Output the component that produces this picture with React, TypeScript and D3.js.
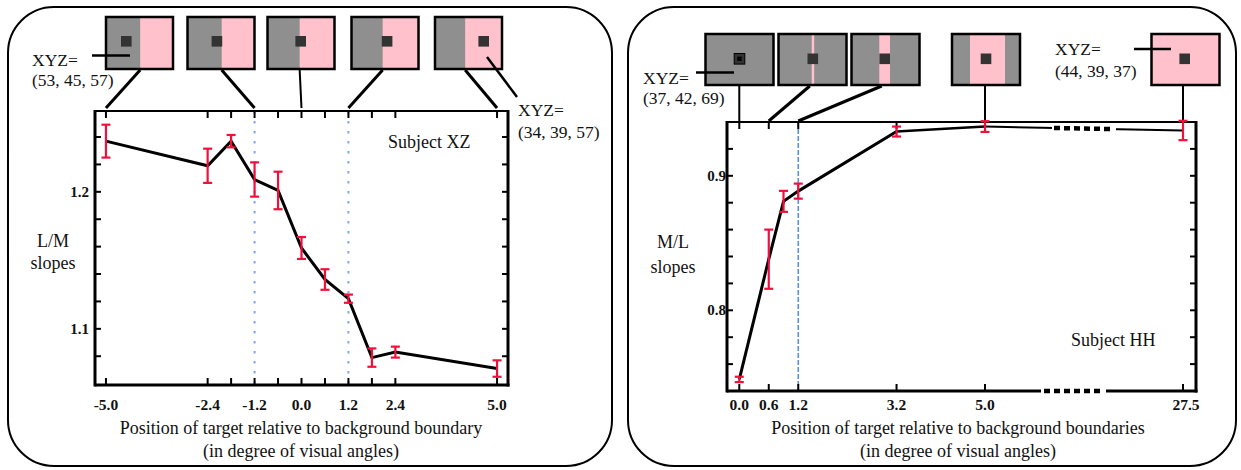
import React from "react";
import * as d3 from "d3";

// ---------- data: Subject XZ (left) ----------
const xzPositions = [-5, -2.4, -1.8, -1.2, -0.6, 0, 0.6, 1.2, 1.8, 2.4, 5];
const xzSlopes = [1.237, 1.219, 1.237, 1.209, 1.201, 1.159, 1.136, 1.122, 1.079, 1.083, 1.071];
const xzErrors = [0.012, 0.0125, 0.0045, 0.0125, 0.0137, 0.008, 0.0075, 0.003, 0.0067, 0.004, 0.006];
const xzTickPositions = [-5, -2.4, -1.8, -1.2, -0.6, 0, 0.6, 1.2, 1.8, 2.4, 5];
const xzTickLabels = ["-5.0", "-2.4", "-1.2", "0.0", "1.2", "2.4", "5.0"];
const xzLabelPositions = [-5, -2.4, -1.2, 0, 1.2, 2.4, 5];
const xzYTicks = [1.08, 1.1, 1.12, 1.14, 1.16, 1.18, 1.2, 1.22, 1.24];
const xzYLabels = ["1.1", "1.2"];
const xzYLabelValues = [1.1, 1.2];
const xzBoundaries = [-1.2, 1.2];
const xzIconXYZ = ["(53, 45, 57)", "(34, 39, 57)"];

// ---------- data: Subject HH (right) ----------
const hhPositions = [0, 0.6, 0.9, 1.2, 3.2, 5.0, 27.5];
const hhSlopes = [0.7486, 0.838, 0.881, 0.8886, 0.9329, 0.9366, 0.9337];
const hhErrors = [0.002, 0.022, 0.0078, 0.0056, 0.0037, 0.004, 0.0072];
const hhTickPositions = [0, 0.6, 1.2, 3.2, 5.0, 27.5];
const hhTickLabels = ["0.0", "0.6", "1.2", "3.2", "5.0", "27.5"];
const hhYTicks = [0.76, 0.78, 0.8, 0.82, 0.84, 0.86, 0.88, 0.9, 0.92];
const hhYLabels = ["0.8", "0.9"];
const hhYLabelValues = [0.8, 0.9];
const hhBoundaries = [1.2];
const hhIconXYZ = ["(37, 42, 69)", "(44, 39, 37)"];

const SERIF = "'Liberation Serif', 'Times New Roman', serif";
const RED = "#f0103c";
const GRAY = "#8f8f8f";
const PINK = "#ffc1cc";
const DARK = "#333333";
const TXT = 18;
const XYZ_TXT = 17.5;
const TICK_TXT = 15.5;

function ErrorBars({ xs, ys, es, x, y }: any) {
  return (
    <g stroke={RED} strokeWidth={2.2} fill="none">
      {xs.map((v: number, i: number) => {
        const cx = x(v);
        const t = y(ys[i] + es[i]);
        const b = y(ys[i] - es[i]);
        return (
          <g key={i}>
            <line x1={cx} x2={cx} y1={t} y2={b} />
            <line x1={cx - 4.5} x2={cx + 4.5} y1={t} y2={t} />
            <line x1={cx - 4.5} x2={cx + 4.5} y1={b} y2={b} />
          </g>
        );
      })}
    </g>
  );
}

function Panel({ x, w }: { x: number; w: number }) {
  return <rect x={x} y={7} width={w} height={459} rx={46} ry={46} fill="none" stroke="#000" strokeWidth={2} />;
}

function LeftChart() {
  const X0 = 95, X1 = 508, Y0 = 111, Y1 = 385;
  const x = d3.scaleLinear().domain([-5.28, 5.28]).range([X0, X1]);
  const y = d3.scaleLinear().domain([1.059, 1.259]).range([Y1, Y0]);
  const line = d3.line<number>().x((d, i) => x(xzPositions[i])).y((d) => y(d));

  const icons = [
    { left: 106, gray: 0.51, tx: 20.3, to: -5 },
    { left: 187.5, gray: 0.51, tx: 29.4, to: -1.2 },
    { left: 267.5, gray: 0.48, tx: 33.2, to: 0 },
    { left: 351.5, gray: 0.465, tx: 35.6, to: 1.2 },
    { left: 435, gray: 0.45, tx: 48.7, to: 5 },
  ];
  const IW = 67, IT = 17, IH = 52;

  return (
    <g>
      <Panel x={8} w={604} />
      {icons.map((ic, i) => {
        const sx = ic.left + IW * ic.gray;
        const ex = x(ic.to);
        return (
          <g key={i}>
            <rect x={ic.left} y={IT} width={IW} height={IH} fill={PINK} />
            <rect x={ic.left} y={IT} width={IW * ic.gray} height={IH} fill={GRAY} />
            <rect x={ic.left + ic.tx - 5.3} y={IT + 19} width={10.6} height={10.6} fill={DARK} />
            <rect x={ic.left} y={IT} width={IW} height={IH} fill="none" stroke="#000" strokeWidth={2.5} />
            <line x1={sx} y1={IT + IH + 1} x2={ex} y2={Y0 - 3} stroke="#000" strokeWidth={i === 2 ? 2 : 3} />
          </g>
        );
      })}
      <line x1={92} y1={55.5} x2={130} y2={55.5} stroke="#000" strokeWidth={2.5} />
      <line x1={487} y1={57} x2={517} y2={97} stroke="#000" strokeWidth={2.5} />
      <g fontFamily={SERIF} fontSize={XYZ_TXT} fill="#111">
        <text x={32} y={66}>XYZ=</text>
        <text x={32} y={86}>{xzIconXYZ[0]}</text>
        <text x={518} y={116}>XYZ=</text>
        <text x={518} y={138}>{xzIconXYZ[1]}</text>
      </g>

      {xzBoundaries.map((b, i) => (
        <line key={i} x1={x(b)} x2={x(b)} y1={Y0} y2={Y1} stroke="#7ea6f6" strokeWidth={2} strokeDasharray="2.5 7.5" />
      ))}

      <line x1={X0} x2={X1} y1={Y0} y2={Y0} stroke="#000" strokeWidth={2} />
      <line x1={X0} x2={X1 + 1.5} y1={Y1} y2={Y1} stroke="#000" strokeWidth={3} />
      <line x1={X0} x2={X0} y1={Y0 - 1} y2={Y1 + 1.5} stroke="#000" strokeWidth={3} />
      <line x1={X1} x2={X1} y1={Y0 - 1} y2={Y1 + 1.5} stroke="#000" strokeWidth={3} />
      <g stroke="#000" strokeWidth={2}>
        {xzTickPositions.map((t, i) => (
          <g key={i}>
            <line x1={x(t)} x2={x(t)} y1={Y1} y2={Y1 - 7} />
            <line x1={x(t)} x2={x(t)} y1={Y0} y2={Y0 + 7} />
          </g>
        ))}
        {xzYTicks.map((t, i) => (
          <g key={i}>
            <line x1={X0} x2={X0 + 6} y1={y(t)} y2={y(t)} />
            <line x1={X1} x2={X1 - 6} y1={y(t)} y2={y(t)} />
          </g>
        ))}
      </g>
      <g fontFamily={SERIF} fontSize={TICK_TXT} fontWeight="bold" fill="#111">
        {xzLabelPositions.map((t, i) => (
          <text key={i} x={x(t)} y={410} textAnchor="middle">{xzTickLabels[i]}</text>
        ))}
        {xzYLabelValues.map((t, i) => (
          <text key={i} x={89} y={y(t) + 5} textAnchor="end" fontSize={15}>{xzYLabels[i]}</text>
        ))}
      </g>

      <path d={line(xzSlopes) || ""} fill="none" stroke="#000" strokeWidth={3} strokeLinejoin="miter" />
      <ErrorBars xs={xzPositions} ys={xzSlopes} es={xzErrors} x={x} y={y} />

      <g fontFamily={SERIF} fontSize={TXT} fill="#111">
        <text x={388} y={148}>Subject XZ</text>
        <text x={53} y={247} textAnchor="middle">L/M</text>
        <text x={53} y={269} textAnchor="middle">slopes</text>
        <text x={301} y={434} textAnchor="middle">Position of target relative to background boundary</text>
        <text x={301} y={457} textAnchor="middle">(in degree of visual angles)</text>
      </g>
    </g>
  );
}

function RightChart() {
  const X0 = 727, X1 = 1196, Y0 = 122, Y1 = 391;
  const x = d3.scaleLinear().domain([-0.25, 5, 27.5]).range([X0, 985, 1183]);
  const y = d3.scaleLinear().domain([0.74, 0.94]).range([Y1, Y0]);
  const pts = hhPositions.map((p, i) => [x(p), y(hhSlopes[i])] as [number, number]);
  const line = d3.line();
  const i32 = hhPositions.indexOf(3.2);
  const i5 = hhPositions.indexOf(5.0);
  const thick = line(pts.slice(0, i32 + 1)) || "";
  const mid = line(pts.slice(i32, i5 + 1)) || "";
  const thin = line(pts.slice(i5)) || "";
  const [ax, ay] = pts[i5];
  const [bx, by] = pts[pts.length - 1];
  const lerp = (px: number) => ay + ((px - ax) / (bx - ax)) * (by - ay);
  const bk0 = 1052, bk1 = 1116;
  const ab0 = 1041, ab1 = 1106;

  const icons = [
    { left: 705.5, to: 0 },
    { left: 778.5, to: 0.6 },
    { left: 851.5, to: 1.2 },
    { left: 952, to: 5.0 },
    { left: 1151.5, to: 27.5 },
  ];
  const IW = 68, IT = 34, IH = 51;
  const bands = [
    [0, 0, 34],
    [33.2, 2.5, 34.3],
    [27.8, 10.7, 33.2],
    [18, 35, 34],
    [0, 68, 33.2],
  ];

  return (
    <g>
      <Panel x={628} w={608} />
      {icons.map((ic, i) => {
        const [bs, bw, tc] = bands[i];
        const cx = ic.left + tc;
        const ex = x(ic.to);
        const vertical = i === 0 || i >= 3;
        return (
          <g key={i}>
            <rect x={ic.left} y={IT} width={IW} height={IH} fill={GRAY} />
            {bw > 0 && <rect x={ic.left + bs} y={IT} width={bw} height={IH} fill={PINK} />}
            <rect x={cx - 5.3} y={IT + 19.5} width={10.6} height={10.6} fill={DARK} stroke={i === 0 ? "#000" : "none"} strokeWidth={1} />
            {i === 0 && <rect x={cx - 2.2} y={IT + 22.6} width={4.4} height={4.4} fill="#000" />}
            <rect x={ic.left} y={IT} width={IW} height={IH} fill="none" stroke="#000" strokeWidth={2.5} />
            <line x1={vertical ? ex : cx - 3} y1={IT + IH + 1} x2={ex} y2={Y0 - 1} stroke="#000" strokeWidth={vertical ? 2 : 3} />
          </g>
        );
      })}
      <line x1={696} y1={72.5} x2={734} y2={72.5} stroke="#000" strokeWidth={2.5} />
      <line x1={1134} y1={49} x2={1171} y2={49} stroke="#000" strokeWidth={2.5} />
      <g fontFamily={SERIF} fontSize={XYZ_TXT} fill="#111">
        <text x={643} y={84}>XYZ=</text>
        <text x={643} y={104}>{hhIconXYZ[0]}</text>
        <text x={1055} y={55}>XYZ=</text>
        <text x={1055} y={77}>{hhIconXYZ[1]}</text>
      </g>

      {hhBoundaries.map((b, i) => (
        <line key={i} x1={x(b)} x2={x(b)} y1={Y0} y2={Y1} stroke="#5b8ff0" strokeWidth={1.6} strokeDasharray="5 2" />
      ))}

      <line x1={X0} x2={X1} y1={Y0} y2={Y0} stroke="#000" strokeWidth={2} />
      <line x1={X0} x2={X1 + 1.5} y1={Y1} y2={Y1} stroke="#000" strokeWidth={3} />
      <line x1={X0} x2={X0} y1={Y0 - 1} y2={Y1 + 1.5} stroke="#000" strokeWidth={3} />
      <line x1={X1} x2={X1} y1={Y0 - 1} y2={Y1 + 1.5} stroke="#000" strokeWidth={3} />
      <rect x={ab0} y={Y1 - 3} width={ab1 - ab0} height={6} fill="#fff" />
      <line x1={ab0 + 3} x2={ab1 - 2} y1={Y1} y2={Y1} stroke="#000" strokeWidth={4.5} strokeDasharray="6 4" />

      <g stroke="#000" strokeWidth={2}>
        {hhTickPositions.map((t, i) => (
          <g key={i}>
            <line x1={x(t)} x2={x(t)} y1={Y1} y2={Y1 - 7} />
            <line x1={x(t)} x2={x(t)} y1={Y0} y2={Y0 + 7} />
          </g>
        ))}
        {hhYTicks.map((t, i) => (
          <g key={i}>
            <line x1={X0} x2={X0 + 6} y1={y(t)} y2={y(t)} />
            <line x1={X1} x2={X1 - 6} y1={y(t)} y2={y(t)} />
          </g>
        ))}
      </g>
      <g fontFamily={SERIF} fontSize={TICK_TXT} fontWeight="bold" fill="#111">
        {hhTickPositions.map((t, i) => (
          <text key={i} x={x(t) + (i === hhTickPositions.length - 1 ? 3 : 0)} y={410} textAnchor="middle">{hhTickLabels[i]}</text>
        ))}
        {hhYLabelValues.map((t, i) => (
          <text key={i} x={726} y={y(t) + 5} textAnchor="end" fontSize={15}>{hhYLabels[i]}</text>
        ))}
      </g>

      <path d={thick} fill="none" stroke="#000" strokeWidth={3} />
      <path d={mid} fill="none" stroke="#000" strokeWidth={2.5} />
      <path d={thin} fill="none" stroke="#000" strokeWidth={2} />
      <line x1={bk0} x2={bk1} y1={lerp(bk0)} y2={lerp(bk1)} stroke="#fff" strokeWidth={5} />
      <line x1={bk0 + 2} x2={bk1 - 2} y1={lerp(bk0 + 2)} y2={lerp(bk1 - 2)} stroke="#000" strokeWidth={4.5} strokeDasharray="6 4" />
      <ErrorBars xs={hhPositions} ys={hhSlopes} es={hhErrors} x={x} y={y} />

      <g fontFamily={SERIF} fontSize={TXT} fill="#111">
        <text x={1071} y={346}>Subject HH</text>
        <text x={673} y={248} textAnchor="middle">M/L</text>
        <text x={673} y={273} textAnchor="middle">slopes</text>
        <text x={958} y={434} textAnchor="middle">Position of target relative to background boundaries</text>
        <text x={958} y={457} textAnchor="middle">(in degree of visual angles)</text>
      </g>
    </g>
  );
}

export default function App() {
  return (
    <svg width={1241} height={470} style={{ position: "absolute", left: 0, top: 0, background: "#fff" }}>
      <rect width={1241} height={470} fill="#fff" />
      <LeftChart />
      <RightChart />
    </svg>
  );
}
